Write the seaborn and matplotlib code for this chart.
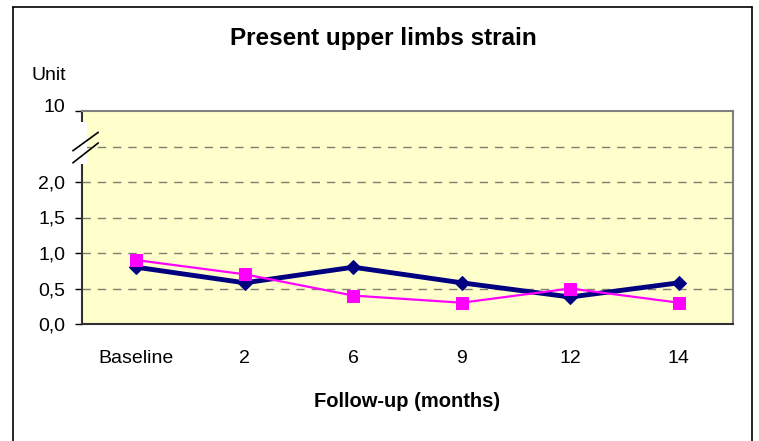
import matplotlib
matplotlib.use("Agg")
import matplotlib.pyplot as plt
from matplotlib.lines import Line2D
from matplotlib.patches import Rectangle
from matplotlib.transforms import ScaledTranslation
import seaborn as sns
import pandas as pd

# Follow-up visits and mean strain scores for the two groups
visits = ["Baseline", "2", "6", "9", "12", "14"]
group_a = [0.8, 0.58, 0.8, 0.58, 0.38, 0.58]
group_b = [0.9, 0.7, 0.4, 0.3, 0.5, 0.3]
y_ticks = [0.0, 0.5, 1.0, 1.5, 2.0, 2.5, 3.0]
y_labels = ["0,0", "0,5", "1,0", "1,5", "2,0", "", "10"]

sns.set_theme(style="white")
plt.rcParams["font.family"] = ["Liberation Sans", "DejaVu Sans"]
plt.rcParams["text.color"] = "black"

pos = list(range(len(visits)))
df = pd.DataFrame({"pos": pos + pos,
                   "value": group_a + group_b,
                   "group": ["A"] * len(pos) + ["B"] * len(pos)})

fig = plt.figure(figsize=(7.59, 4.41), dpi=100)
W, H = 759, 441
ax = fig.add_axes([82 / W, 1 - 324 / H, (733 - 82) / W, (324 - 111) / H])
ax.set_facecolor("#FFFFCC")

sns.lineplot(data=df[df.group == "A"], x="pos", y="value", ax=ax,
             color="#000080", linewidth=3.5, marker="D", markersize=7.5,
             markeredgecolor="#000080", zorder=4)
sns.lineplot(data=df[df.group == "B"], x="pos", y="value", ax=ax,
             color="#FF00FF", linewidth=1.6, marker="s", markersize=8,
             markeredgecolor="#FF00FF", zorder=5)

ax.set_xlim(-0.5, len(visits) - 0.5)
ax.set_ylim(0, 3.0)
ax.set_xticks(pos)
ax.set_xticklabels(visits, fontsize=14, color="black")
ax.set_yticks(y_ticks)
ax.set_yticklabels(y_labels, fontsize=14, color="black")
ax.tick_params(axis="x", length=0, pad=19)
ax.tick_params(axis="y", length=5, width=1, color="black", direction="out",
               left=True, pad=7)
# the top "10" label sits a little above its tick
ax.get_yticklabels()[-1].set_transform(
    ax.get_yticklabels()[-1].get_transform()
    + ScaledTranslation(0, 6 / 100, fig.dpi_scale_trans))
ax.set_xlabel("Follow-up (months)", fontsize=14.5, fontweight="bold",
              labelpad=18, color="black")
ax.set_ylabel("")

for y in y_ticks[1:-1]:
    ax.axhline(y, color="#7F7F70", linewidth=1, linestyle=(0, (6, 5)),
               zorder=1)

for side in ["top", "right"]:
    ax.spines[side].set_color("#808080")
    ax.spines[side].set_linewidth(1.5)
for side in ["left", "bottom"]:
    ax.spines[side].set_color("#303030")
    ax.spines[side].set_linewidth(1.5)

# axis break between 2,0 and 10
ax.add_patch(Rectangle((-0.012, 2.25), 0.02, 0.6, transform=ax.get_yaxis_transform(),
                       facecolor="white", edgecolor="none", clip_on=False, zorder=6))
for y0, y1 in [(2.44, 2.70), (2.27, 2.55)]:
    ax.add_line(Line2D([-0.014, 0.025], [y0, y1], transform=ax.get_yaxis_transform(),
                       color="black", linewidth=1.2, clip_on=False, zorder=7))

fig.text(383 / W, 1 - 39 / H, "Present upper limbs strain", ha="center",
         va="center", fontsize=17.5, fontweight="bold", color="black")
fig.text(49 / W, 1 - 75 / H, "Unit", ha="center", va="center", fontsize=14,
         color="black")

# outer chart border
for xs, ys in [([13, 752], [7, 7]), ([752, 752], [7, 446])]:
    fig.add_artist(Line2D([x / W for x in xs], [1 - y / H for y in ys],
                          color="black", linewidth=1.2))
fig.add_artist(Line2D([13 / W, 13 / W], [1 - 7 / H, -0.02], color="black", linewidth=1.2))

fig.savefig("out.png", dpi=100)
